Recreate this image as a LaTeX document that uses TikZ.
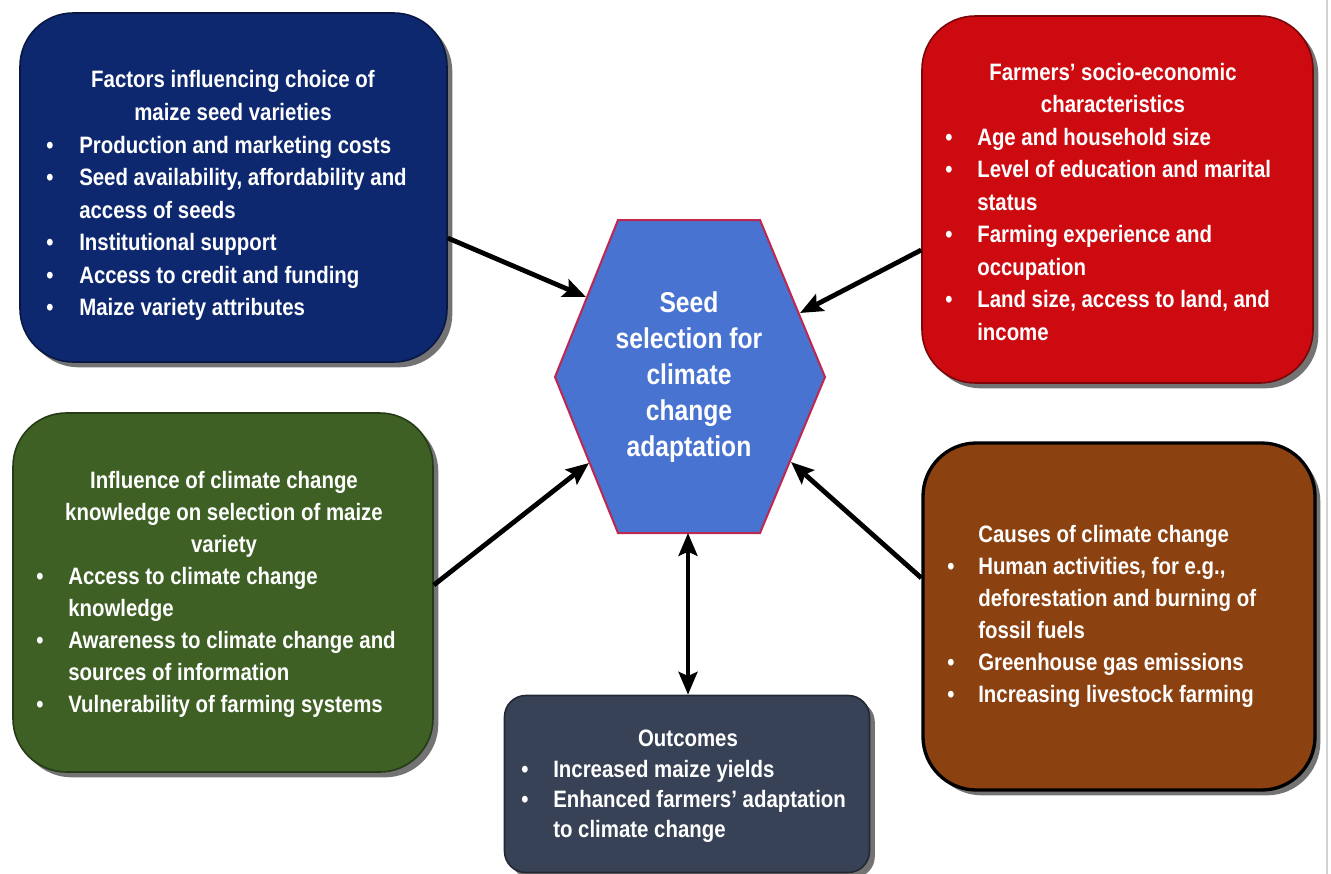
\documentclass[tikz,border=0pt]{standalone}
\usepackage{fontspec}
\newfontfamily\nf{Liberation Sans}[FakeStretch=0.86]
\usetikzlibrary{shadows,arrows.meta}
\definecolor{cblue}{RGB}{14,40,112}
\definecolor{cred}{RGB}{205,10,16}
\definecolor{cgreen}{RGB}{62,96,36}
\definecolor{cbrown}{RGB}{140,66,16}
\definecolor{cslate}{RGB}{56,66,86}
\definecolor{chex}{RGB}{72,115,208}
\definecolor{chexb}{RGB}{190,40,80}
\begin{document}
\begin{tikzpicture}[x=0.75pt,y=-0.75pt,
  box/.style={draw=#1!60!black, fill=#1, line width=1.2pt, rounded corners=40pt,
    drop shadow={shadow xshift=4pt,shadow yshift=-4pt,opacity=0.55,fill=black}},
  txt/.style={text=white, font=\nf\bfseries\fontsize{17.8pt}{20pt}\selectfont, inner sep=0pt, anchor=base west},
  ctxt/.style={txt, anchor=base},
  bul/.style={txt, anchor=base},
  htxt/.style={text=white, font=\nf\bfseries\fontsize{21.5pt}{24pt}\selectfont, inner sep=0pt, anchor=base},
  arr/.style={line width=3.6pt, -{Stealth[length=17pt,width=14pt,inset=3pt]}},
  darr/.style={line width=3.6pt, {Stealth[length=17pt,width=14pt,inset=3pt]}-{Stealth[length=17pt,width=14pt,inset=3pt]}},
]
\useasboundingbox (0,0) rectangle (1331,874);
\fill[white] (0,0) rectangle (1331,874);
\draw[gray!35, line width=0.8pt] (1327,0) -- (1327,874);

% boxes
\node[box=cblue, minimum width=427*0.75pt, minimum height=349*0.75pt] (fac) at (233.5,187.5) {};
\node[box=cred, minimum width=391*0.75pt, minimum height=367*0.75pt] (farm) at (1117.5,199.5) {};
\node[box=cgreen, minimum width=420*0.75pt, minimum height=359*0.75pt] (know) at (223,592.5) {};
\node[box=cbrown, draw=black, line width=2.5pt, minimum width=392*0.75pt, minimum height=347*0.75pt] (cause) at (1119,616.5) {};
\node[box=cslate, rounded corners=16pt, minimum width=365*0.75pt, minimum height=177*0.75pt] (out) at (687,784) {};

% hexagon
\coordinate (hTL) at (618,220);
\coordinate (hTR) at (760,220);
\coordinate (hR) at (825,377);
\coordinate (hBR) at (760,533);
\coordinate (hBL) at (618,533);
\coordinate (hL) at (555,377);
\coordinate (hB) at (688,533);
\draw[fill=chex, draw=chexb, line width=1.5pt] (hTL) -- (hTR) -- (hR) -- (hBR) -- (hBL) -- (hL) -- cycle;
\node[htxt] (h1) at (689,312) {Seed};
\node[htxt] (h2) at (689,348.2) {selection for};
\node[htxt] (h3) at (689,384.4) {climate};
\node[htxt] (h4) at (689,420.6) {change};
\node[htxt] (h5) at (689,456.8) {adaptation};

% blue text
\node[ctxt] (fh1) at (233,88) {Factors influencing choice of};
\node[ctxt] (fh2) at (233,120.5) {maize seed varieties};
\node[bul] (fb1) at (50,153) {\textbullet};
\node[txt] (f1) at (79,153) {Production and marketing costs};
\node[bul] (fb2) at (50,185.5) {\textbullet};
\node[txt] (f2) at (79,185.5) {Seed availability, affordability and};
\node[txt] (f3) at (79,218) {access of seeds};
\node[bul] (fb4) at (50,250.5) {\textbullet};
\node[txt] (f4) at (79,250.5) {Institutional support};
\node[bul] (fb5) at (50,283) {\textbullet};
\node[txt] (f5) at (79,283) {Access to credit and funding};
\node[bul] (fb6) at (50,315.5) {\textbullet};
\node[txt] (f6) at (79,315.5) {Maize variety attributes};

% red text
\node[ctxt] (rh1) at (1113,80) {Farmers’ socio-economic};
\node[ctxt] (rh2) at (1113,112.5) {characteristics};
\node[bul] (rb1) at (949,145) {\textbullet};
\node[txt] (r1) at (977,145) {Age and household size};
\node[bul] (rb2) at (949,177.5) {\textbullet};
\node[txt] (r2) at (977,177.5) {Level of education and marital};
\node[txt] (r3) at (977,210) {status};
\node[bul] (rb4) at (949,242.5) {\textbullet};
\node[txt] (r4) at (977,242.5) {Farming experience and};
\node[txt] (r5) at (977,275) {occupation};
\node[bul] (rb6) at (949,307.5) {\textbullet};
\node[txt] (r6) at (977,307.5) {Land size, access to land, and};
\node[txt] (r7) at (977,340) {income};

% green text
\node[ctxt] (gh1) at (224,488) {Influence of climate change};
\node[ctxt] (gh2) at (224,520) {knowledge on selection of maize};
\node[ctxt] (gh3) at (224,552) {variety};
\node[bul] (gb1) at (40,584.5) {\textbullet};
\node[txt] (g1) at (68,584.5) {Access to climate change};
\node[txt] (g2) at (68,616.5) {knowledge};
\node[bul] (gb3) at (40,648.5) {\textbullet};
\node[txt] (g3) at (68,648.5) {Awareness to climate change and};
\node[txt] (g4) at (68,680.5) {sources of information};
\node[bul] (gb5) at (40,712.5) {\textbullet};
\node[txt] (g5) at (68,712.5) {Vulnerability of farming systems};

% brown text
\node[txt] (c0) at (978,542) {Causes of climate change};
\node[bul] (cb1) at (951,574) {\textbullet};
\node[txt] (c1) at (978,574) {Human activities, for e.g.,};
\node[txt] (c2) at (978,606) {deforestation and burning of};
\node[txt] (c3) at (978,638) {fossil fuels};
\node[bul] (cb4) at (951,670) {\textbullet};
\node[txt] (c4) at (978,670) {Greenhouse gas emissions};
\node[bul] (cb5) at (951,702) {\textbullet};
\node[txt] (c5) at (978,702) {Increasing livestock farming};

% outcomes text
\node[ctxt] (oh) at (688,746) {Outcomes};
\node[bul] (ob1) at (525,777) {\textbullet};
\node[txt] (o1) at (553,777) {Increased maize yields};
\node[bul] (ob2) at (525,807) {\textbullet};
\node[txt] (o2) at (553,807) {Enhanced farmers’ adaptation};
\node[txt] (o3) at (553,837) {to climate change};

% arrow ends on hexagon
\coordinate (e1) at (586,297);
\coordinate (e2) at (800,313);
\coordinate (e3) at (589,463);
\coordinate (e4) at (791,462);

\draw[arr] ([yshift=-37.9pt]fac.east) -- (e1);
\draw[arr] ([yshift=-37.9pt]farm.west) -- (e2);
\draw[arr] ([yshift=5.6pt]know.east) -- (e3);
\draw[arr] ([yshift=28.9pt]cause.west) -- (e4);
\draw[darr] (hB) -- (hB |- out.north);
\end{tikzpicture}
\end{document}
